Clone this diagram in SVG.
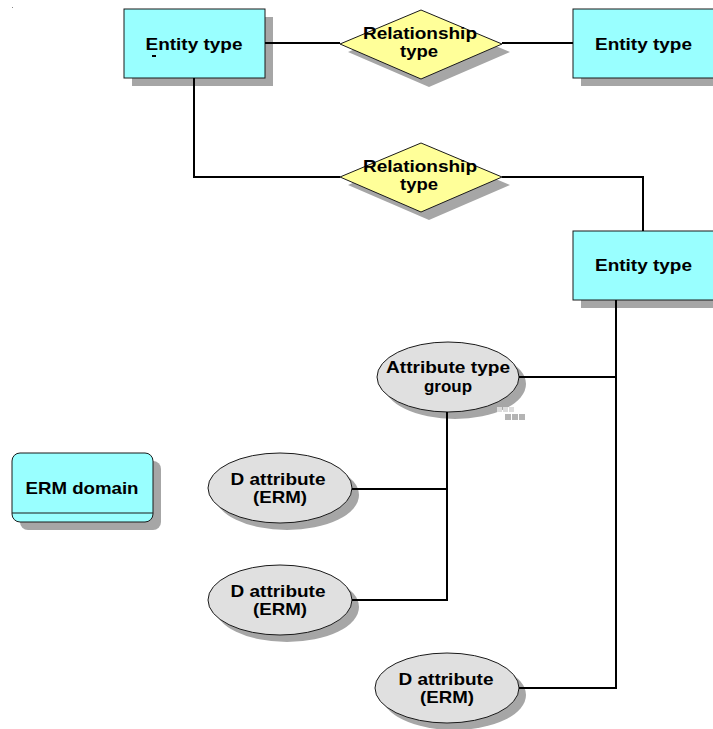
<svg xmlns="http://www.w3.org/2000/svg" width="713" height="729" viewBox="0 0 713 729">
<style>
.ent{fill:#99ffff;stroke:#1a1a1a;stroke-width:1}
.rel{fill:#ffff99;stroke:#1a1a1a;stroke-width:1}
.att{fill:#e0e0e0;stroke:#1a1a1a;stroke-width:1}
.sh{fill:#a6a6a6}
.lbl{font-family:"Liberation Sans",Arial,sans-serif;font-weight:bold;font-size:16.5px;fill:#000;text-anchor:middle}
.con{fill:none;stroke:#000;stroke-width:2}
</style>
<rect width="713" height="729" fill="#fff"/>
<rect x="12" y="7" width="1" height="1" fill="#888"/>
<g id="entity1">
<rect class="sh" x="132" y="17" width="141" height="69"/>
<rect class="ent" x="124" y="9" width="141" height="69"/>
<text class="lbl" x="194" y="50" textLength="97" lengthAdjust="spacingAndGlyphs">Entity type</text>
<rect x="152" y="55" width="4" height="2" fill="#000"/>
</g>
<g id="relationship1">
<polygon class="sh" points="429,18 510,52 429,87 348,52"/>
<polygon class="rel" points="421,10 502,44 421,79 340,44"/>
<text class="lbl" x="420" y="39" textLength="114" lengthAdjust="spacingAndGlyphs">Relationship</text>
<text class="lbl" x="419" y="57" textLength="38" lengthAdjust="spacingAndGlyphs">type</text>
</g>
<g id="entity2">
<rect class="sh" x="581" y="17" width="141" height="69"/>
<rect class="ent" x="573" y="9" width="141" height="69"/>
<text class="lbl" x="643.5" y="50" textLength="97" lengthAdjust="spacingAndGlyphs">Entity type</text>
</g>
<g id="relationship2">
<polygon class="sh" points="429,151 510,185 429,220 348,185"/>
<polygon class="rel" points="421,143 502,177 421,212 340,177"/>
<text class="lbl" x="420" y="172" textLength="114" lengthAdjust="spacingAndGlyphs">Relationship</text>
<text class="lbl" x="419" y="190" textLength="38" lengthAdjust="spacingAndGlyphs">type</text>
</g>
<g id="entity3">
<rect class="sh" x="581" y="239" width="141" height="69"/>
<rect class="ent" x="573" y="231" width="141" height="69"/>
<text class="lbl" x="643.5" y="271" textLength="97" lengthAdjust="spacingAndGlyphs">Entity type</text>
</g>
<g id="attributeTypeGroup">
<ellipse class="sh" cx="455" cy="384" rx="71" ry="35"/>
<ellipse class="att" cx="448" cy="377" rx="71" ry="35"/>
<text class="lbl" x="448" y="373" textLength="124" lengthAdjust="spacingAndGlyphs">Attribute type</text>
<text class="lbl" x="448" y="392" textLength="48" lengthAdjust="spacingAndGlyphs">group</text>
<g fill="#dcdcdc">
<rect x="497" y="407" width="5" height="5"/>
<rect x="503" y="407" width="5" height="5"/>
<rect x="509" y="407" width="5" height="5"/>
</g>
<g fill="#b4b4b4">
<rect x="505" y="414" width="6" height="6"/>
<rect x="512" y="414" width="6" height="6"/>
<rect x="519" y="414" width="6" height="6"/>
</g>
</g>
<g id="ermDomain">
<rect class="sh" x="20" y="461" width="141" height="69" rx="8"/>
<rect class="ent" x="12" y="453" width="141" height="69" rx="8"/>
<line x1="12" y1="513" x2="153" y2="513" stroke="#1a1a1a" stroke-width="1"/>
<text class="lbl" x="82" y="494" textLength="113" lengthAdjust="spacingAndGlyphs">ERM domain</text>
</g>
<g id="dAttribute1">
<ellipse class="sh" cx="287" cy="495" rx="72" ry="35"/>
<ellipse class="att" cx="280" cy="488" rx="72" ry="35"/>
<text class="lbl" x="278" y="485" textLength="95" lengthAdjust="spacingAndGlyphs">D attribute</text>
<text class="lbl" x="280" y="503" textLength="54" lengthAdjust="spacingAndGlyphs">(ERM)</text>
</g>
<g id="dAttribute2">
<ellipse class="sh" cx="287" cy="607" rx="72" ry="35"/>
<ellipse class="att" cx="280" cy="600" rx="72" ry="35"/>
<text class="lbl" x="278" y="597" textLength="95" lengthAdjust="spacingAndGlyphs">D attribute</text>
<text class="lbl" x="280" y="615" textLength="54" lengthAdjust="spacingAndGlyphs">(ERM)</text>
</g>
<g id="dAttribute3">
<ellipse class="sh" cx="454" cy="695" rx="72" ry="35"/>
<ellipse class="att" cx="447" cy="688" rx="72" ry="35"/>
<text class="lbl" x="446" y="685" textLength="95" lengthAdjust="spacingAndGlyphs">D attribute</text>
<text class="lbl" x="447" y="703" textLength="54" lengthAdjust="spacingAndGlyphs">(ERM)</text>
</g>
<g id="connectors">
<line class="con" x1="265" y1="43" x2="340" y2="43"/>
<line class="con" x1="502" y1="43" x2="573" y2="43"/>
<polyline class="con" points="194,78 194,177 340,177"/>
<polyline class="con" points="502,177 643,177 643,231"/>
<polyline class="con" points="616,300 616,688 519,688"/>
<line class="con" x1="519" y1="377" x2="616" y2="377"/>
<polyline class="con" points="447,412 447,600 352,600"/>
<line class="con" x1="352" y1="489" x2="447" y2="489"/>
</g>
</svg>
